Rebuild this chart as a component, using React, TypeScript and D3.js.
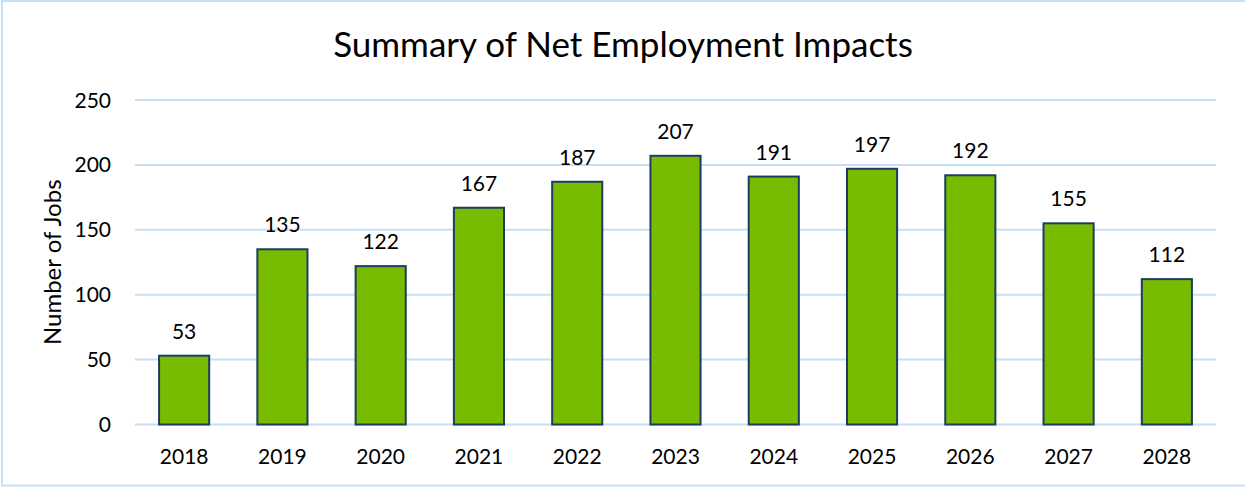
import React, { useEffect, useRef } from 'react';
import * as d3 from 'd3';

const years = ['2018', '2019', '2020', '2021', '2022', '2023', '2024', '2025', '2026', '2027', '2028'];
const jobs = [53, 135, 122, 167, 187, 207, 191, 197, 192, 155, 112];
const yTicks = [0, 50, 100, 150, 200, 250];

const W = 1245;
const H = 487;
const FONT = 'Lato, "Open Sans", sans-serif';

const App: React.FC = () => {
  const svgRef = useRef<SVGSVGElement>(null);

  useEffect(() => {
    if (!svgRef.current) return;
    const svg = d3.select(svgRef.current);
    svg.selectAll('*').remove();

    const margin = { top: 100, right: 29, bottom: 62.5, left: 135 };
    const width = W - margin.left - margin.right;
    const height = H - margin.top - margin.bottom;

    // outer chart border
    svg.append('rect')
      .attr('x', 2)
      .attr('y', 1)
      .attr('width', W + 10)
      .attr('height', H - 2.5)
      .attr('fill', '#fff')
      .attr('stroke', '#c5e0f7')
      .attr('stroke-width', 2);

    svg.append('text')
      .attr('x', 623)
      .attr('y', 57)
      .attr('text-anchor', 'middle')
      .style('font-family', FONT)
      .style('font-size', '35px')
      .style('fill', '#000')
      .text('Summary of Net Employment Impacts');

    const g = svg.append('g')
      .attr('transform', `translate(${margin.left},${margin.top})`);

    const x = d3.scaleBand<string>()
      .domain(years)
      .range([0, width])
      .paddingInner(0.49)
      .paddingOuter(0.245);

    const y = d3.scaleLinear()
      .domain([0, 250])
      .range([height, 0]);

    // gridlines
    g.append('g')
      .selectAll('line')
      .data(yTicks)
      .enter()
      .append('line')
      .attr('x1', 0)
      .attr('x2', width)
      .attr('y1', d => y(d))
      .attr('y2', d => y(d))
      .attr('stroke', '#c5e0f7')
      .attr('stroke-width', 2);

    // y tick labels
    g.append('g')
      .selectAll('text')
      .data(yTicks)
      .enter()
      .append('text')
      .attr('x', -24)
      .attr('y', d => y(d))
      .attr('dy', '0.36em')
      .attr('text-anchor', 'end')
      .style('font-family', FONT)
      .style('font-size', '21px')
      .text(d => d);

    // bars
    g.append('g')
      .selectAll('rect')
      .data(jobs)
      .enter()
      .append('rect')
      .attr('x', (d, i) => x(years[i])!)
      .attr('y', d => y(d))
      .attr('width', x.bandwidth())
      .attr('height', d => height - y(d))
      .attr('fill', '#77bc00')
      .attr('stroke', '#1f3b63')
      .attr('stroke-width', 2);

    // value labels
    g.append('g')
      .selectAll('text')
      .data(jobs)
      .enter()
      .append('text')
      .attr('x', (d, i) => x(years[i])! + x.bandwidth() / 2)
      .attr('y', d => y(d) - 17)
      .attr('text-anchor', 'middle')
      .style('font-family', FONT)
      .style('font-size', '21px')
      .text(d => d);

    // x labels
    g.append('g')
      .selectAll('text')
      .data(years)
      .enter()
      .append('text')
      .attr('x', d => x(d)! + x.bandwidth() / 2)
      .attr('y', height + 39)
      .attr('text-anchor', 'middle')
      .style('font-family', FONT)
      .style('font-size', '21px')
      .text(d => d);

    // y axis title
    g.append('text')
      .attr('transform', 'rotate(-90)')
      .attr('x', -height / 2)
      .attr('y', -74)
      .attr('text-anchor', 'middle')
      .style('font-family', FONT)
      .style('font-size', '24px')
      .text('Number of Jobs');
  }, []);

  return (
    <div style={{ position: 'fixed', left: 0, top: 0 }}>
      <svg ref={svgRef} width={W} height={H} style={{ display: 'block' }}></svg>
    </div>
  );
};

export default App;
